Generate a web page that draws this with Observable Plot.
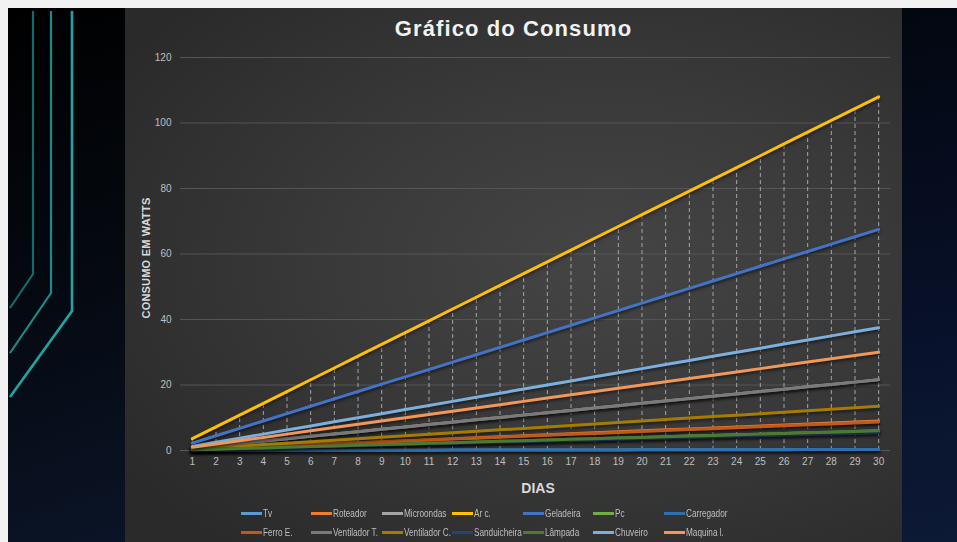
<!DOCTYPE html>
<html>
<head>
<meta charset="utf-8">
<script src="https://cdn.jsdelivr.net/npm/d3@7"></script>
<script src="https://cdn.jsdelivr.net/npm/@observablehq/plot@0.6"></script>
<style>
  html, body { margin: 0; padding: 0; }
  body { width: 957px; height: 542px; position: relative; overflow: hidden; background: #f2f2f2; font-family: "Liberation Sans", Arial, sans-serif; }
  #leftPanel { position: absolute; left: 8px; top: 8px; width: 118px; height: 534px; background: linear-gradient(160deg, #000000 0%, #050a12 55%, #0b1427 100%); }
  #rightPanel { position: absolute; left: 902px; top: 8px; width: 55px; height: 534px; background: linear-gradient(170deg, #030710 0%, #08112a 60%, #0d1a35 100%); }
  #deco { position: absolute; left: 0; top: 0; }
  #chartPanel { position: absolute; left: 125px; top: 8px; width: 777px; height: 534px; background: radial-gradient(ellipse 75% 70% at 62% 48%, #454545 0%, #3a3a3a 45%, #2a2a2a 100%); }
  #title { position: absolute; left: 125px; width: 777px; top: 16px; text-align: center; color: #f2f2f2; font-weight: bold; font-size: 22px; letter-spacing: 1.1px; }
  #ylabel { position: absolute; left: 146px; top: 258px; transform: translate(-50%, -50%) rotate(-90deg); color: #d9d9d9; font-weight: bold; font-size: 11px; white-space: nowrap; letter-spacing: 0.2px; }
  #xlabel { position: absolute; left: 538px; top: 488px; transform: translate(-50%, -50%); color: #d9d9d9; font-weight: bold; font-size: 14px; }
  #plot { position: absolute; left: 125px; top: 8px; }
  #plot svg g[aria-label="line"] path { filter: drop-shadow(0px 2px 1.5px rgba(0,0,0,0.55)); }
  .leg { position: absolute; display: flex; align-items: center; font-family: "Liberation Sans", Arial, sans-serif; font-size: 10px; color: #bfbfbf; white-space: nowrap; }
  .leg span.sw { display: inline-block; width: 21px; height: 3px; margin-right: 1px; flex: none; }
  .leg span.tx { display: inline-block; transform: scaleX(0.82); transform-origin: left center; }
</style>
</head>
<body>
<div id="leftPanel"></div>
<div id="rightPanel"></div>
<svg id="deco" width="125" height="542">
  <polyline points="33,11 33,274 10,308" fill="none" stroke="#17696b" stroke-width="2.2"/>
  <polyline points="51,11 51,293 10,353" fill="none" stroke="#1a8a8a" stroke-width="2.2"/>
  <polyline points="72,11 72,311 10,397" fill="none" stroke="#1ea6a4" stroke-width="2.6"/>
</svg>
<div id="chartPanel"></div>
<div id="title">Gráfico do Consumo</div>
<div id="ylabel">CONSUMO EM WATTS</div>
<div id="xlabel">DIAS</div>
<div id="plot"></div>
<div id="legend"></div>
<script>
const days = [1,2,3,4,5,6,7,8,9,10,11,12,13,14,15,16,17,18,19,20,21,22,23,24,25,26,27,28,29,30];
const yTicks = [0,20,40,60,80,100,120];

const tv =          [0.01,0.02,0.03,0.04,0.05,0.06,0.07,0.08,0.09,0.1,0.11,0.12,0.13,0.14,0.15,0.16,0.17,0.18,0.19,0.2,0.21,0.22,0.23,0.24,0.25,0.26,0.27,0.28,0.29,0.3];
const roteador =    [0.3,0.6,0.9,1.2,1.5,1.8,2.1,2.4,2.7,3,3.3,3.6,3.9,4.2,4.5,4.8,5.1,5.4,5.7,6,6.3,6.6,6.9,7.2,7.5,7.8,8.1,8.4,8.7,9];
const microondas =  [0.72,1.44,2.16,2.88,3.6,4.32,5.04,5.76,6.48,7.2,7.92,8.64,9.36,10.08,10.8,11.52,12.24,12.96,13.68,14.4,15.12,15.84,16.56,17.28,18,18.72,19.44,20.16,20.88,21.6];
const arC =         [3.6,7.2,10.8,14.4,18,21.6,25.2,28.8,32.4,36,39.6,43.2,46.8,50.4,54,57.6,61.2,64.8,68.4,72,75.6,79.2,82.8,86.4,90,93.6,97.2,100.8,104.4,108];
const geladeira =   [2.25,4.5,6.75,9,11.25,13.5,15.75,18,20.25,22.5,24.75,27,29.25,31.5,33.75,36,38.25,40.5,42.75,45,47.25,49.5,51.75,54,56.25,58.5,60.75,63,65.25,67.5];
const pc =          [0.2,0.4,0.6,0.8,1,1.2,1.4,1.6,1.8,2,2.2,2.4,2.6,2.8,3,3.2,3.4,3.6,3.8,4,4.2,4.4,4.6,4.8,5,5.2,5.4,5.6,5.8,6];
const carregador =  [0.01,0.02,0.03,0.04,0.05,0.06,0.07,0.08,0.09,0.1,0.11,0.12,0.13,0.14,0.15,0.16,0.17,0.18,0.19,0.2,0.21,0.22,0.23,0.24,0.25,0.26,0.27,0.28,0.29,0.3];
const ferroE =      [0.29,0.58,0.87,1.16,1.45,1.74,2.03,2.32,2.61,2.9,3.19,3.48,3.77,4.06,4.35,4.64,4.93,5.22,5.51,5.8,6.09,6.38,6.67,6.96,7.25,7.54,7.83,8.12,8.41,8.7];
const ventiladorT = [0.72,1.44,2.16,2.88,3.6,4.32,5.04,5.76,6.48,7.2,7.92,8.64,9.36,10.08,10.8,11.52,12.24,12.96,13.68,14.4,15.12,15.84,16.56,17.28,18,18.72,19.44,20.16,20.88,21.6];
const ventiladorC = [0.45,0.9,1.35,1.8,2.25,2.7,3.15,3.6,4.05,4.5,4.95,5.4,5.85,6.3,6.75,7.2,7.65,8.1,8.55,9,9.45,9.9,10.35,10.8,11.25,11.7,12.15,12.6,13.05,13.5];
const sanduicheira = [0.18,0.36,0.54,0.72,0.9,1.08,1.26,1.44,1.62,1.8,1.98,2.16,2.34,2.52,2.7,2.88,3.06,3.24,3.42,3.6,3.78,3.96,4.14,4.32,4.5,4.68,4.86,5.04,5.22,5.4];
const lampada =     [0.2,0.4,0.6,0.8,1,1.2,1.4,1.6,1.8,2,2.2,2.4,2.6,2.8,3,3.2,3.4,3.6,3.8,4,4.2,4.4,4.6,4.8,5,5.2,5.4,5.6,5.8,6];
const chuveiro =    [1.25,2.5,3.75,5,6.25,7.5,8.75,10,11.25,12.5,13.75,15,16.25,17.5,18.75,20,21.25,22.5,23.75,25,26.25,27.5,28.75,30,31.25,32.5,33.75,35,36.25,37.5];
const maquinaL =    [1,2,3,4,5,6,7,8,9,10,11,12,13,14,15,16,17,18,19,20,21,22,23,24,25,26,27,28,29,30];

const seriesNames = ["Tv","Roteador","Microondas","Ar c.","Geladeira","Pc","Carregador","Ferro E.","Ventilador T.","Ventilador C.","Sanduicheira","Lâmpada","Chuveiro","Maquina l."];
const seriesValues = [tv,roteador,microondas,arC,geladeira,pc,carregador,ferroE,ventiladorT,ventiladorC,sanduicheira,lampada,chuveiro,maquinaL];
const seriesColors = ["#5b9bd5","#ed7d31","#a5a5a5","#ffc000","#4472c4","#70ad47","#2e6fae","#c0591a","#7a7a7a","#a67c00","#264478","#4c7a30","#7cafdd","#f1975a"];

const rows = [];
seriesNames.forEach((name, i) => {
  seriesValues[i].forEach((v, j) => rows.push({serie: name, dia: days[j], valor: v}));
});
const drops = days.map((d, j) => ({dia: d, top: arC[j]}));

const chart = Plot.plot({
  width: 777,
  height: 500,
  marginLeft: 55,
  marginRight: 12,
  marginTop: 49,
  marginBottom: 58,
  style: {background: "transparent", fontFamily: "Liberation Sans, Arial, sans-serif", fontSize: "10px", color: "#bfbfbf"},
  x: {domain: [0.5, 30.5], ticks: days, tickSize: 0, tickPadding: 7, tickFormat: d => String(d), label: null},
  y: {domain: [0, 120], ticks: yTicks, tickSize: 0, tickPadding: 9, label: null},
  color: {domain: seriesNames, range: seriesColors},
  marks: [
    Plot.ruleY(yTicks.slice(1), {stroke: "#555555", strokeWidth: 1}),
    Plot.ruleY([0], {stroke: "#595959", strokeWidth: 1}),
    Plot.ruleX(drops, {x: "dia", y1: 0, y2: "top", stroke: "#b0b0b0", strokeWidth: 1, strokeDasharray: "4,3", strokeOpacity: 0.9}),
    Plot.line(rows, {x: "dia", y: "valor", z: "serie", stroke: "serie", strokeWidth: 3, strokeLinecap: "round"})
  ]
});
document.getElementById("plot").appendChild(chart);

// legend
const legend = document.getElementById("legend");
const legX = [241, 311, 382, 452, 523, 593, 664];
const legY = [513, 532];
seriesNames.forEach((name, i) => {
  const el = document.createElement("div");
  el.className = "leg";
  el.style.left = legX[i % 7] + "px";
  el.style.top = (legY[Math.floor(i / 7)] - 6) + "px";
  el.style.height = "12px";
  const sw = document.createElement("span");
  sw.className = "sw";
  sw.style.background = seriesColors[i];
  el.appendChild(sw);
  const tx = document.createElement("span");
  tx.className = "tx";
  tx.textContent = name;
  el.appendChild(tx);
  legend.appendChild(el);
});
</script>
</body>
</html>
